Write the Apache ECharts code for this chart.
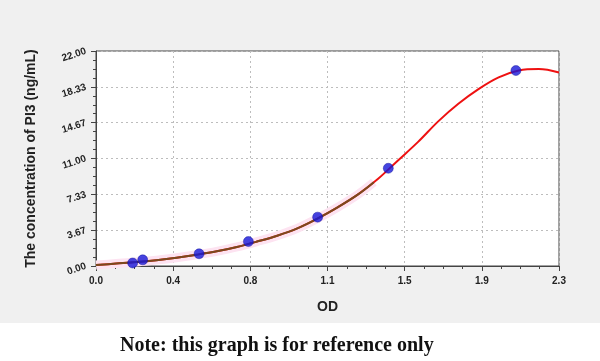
<!DOCTYPE html>
<html><head><meta charset="utf-8">
<script src="https://cdn.jsdelivr.net/npm/echarts@6/dist/echarts.min.js"></script>
<style>html,body{margin:0;padding:0;background:#fff}#c{width:600px;height:361px}</style>
</head><body><div id="c"></div>
<script>
// Standard points (OD, concentration)
var pointOD = [0.182, 0.232, 0.512, 0.757, 1.101, 1.452, 2.086];
var pointConc = [0.31, 0.63, 1.25, 2.5, 5, 10, 20];
// Fitted curve
var curveOD = [0, 0.1, 0.2, 0.3, 0.4, 0.5, 0.6, 0.7, 0.8, 0.9, 1.0, 1.1, 1.2, 1.3, 1.4, 1.5, 1.6, 1.7, 1.8, 1.9, 2.0, 2.1, 2.2, 2.3];
var curveConc = [0.1, 0.25, 0.4, 0.6, 0.85, 1.15, 1.5, 1.95, 2.5, 3.1, 3.85, 4.85, 6.0, 7.3, 8.9, 10.8, 12.7, 14.8, 16.6, 18.1, 19.3, 20.0, 20.15, 19.8];
var brownEndOD = 1.38;
var xTickLabels = ['0.0', '0.4', '0.8', '1.1', '1.5', '1.9', '2.3'];
var yTickLabels = ['0.00', '3.67', '7.33', '11.00', '14.67', '18.33', '22.00'];
var xMax = 2.3, yMax = 22;

var xInt = xMax / 6, yInt = yMax / 6;
var pts = pointOD.map(function (x, i) { return [x, pointConc[i]]; });
var curve = curveOD.map(function (x, i) { return [x, curveConc[i]]; });
var brown = curve.filter(function (p) { return p[0] <= brownEndOD; });
(function () {
  for (var i = 0; i < curve.length - 1; i++) {
    if (curve[i][0] < brownEndOD && curve[i + 1][0] > brownEndOD) {
      var t = (brownEndOD - curve[i][0]) / (curve[i + 1][0] - curve[i][0]);
      brown.push([brownEndOD, curve[i][1] + t * (curve[i + 1][1] - curve[i][1])]);
    }
  }
})();

var chart = echarts.init(document.getElementById('c'), null, { renderer: 'canvas' });
var axisFont = { color: '#222', fontSize: 10, fontWeight: 'bold', fontFamily: 'Liberation Sans, Arial, sans-serif' };
var gridLine = { show: true, lineStyle: { color: '#bdbdbd', type: [2, 3], width: 1 } };
chart.setOption({
  animation: false,
  backgroundColor: '#ffffff',
  graphic: [
    { type: 'rect', shape: { x: 0, y: 0, width: 600, height: 323 }, style: { fill: '#f0f0f0' }, z: -10, silent: true },
    { type: 'text', left: 120, top: 336, style: { text: 'Note: this graph is for reference only', fill: '#111', font: 'bold 20px "Liberation Serif", "DejaVu Serif", serif' } }
  ],
  grid: { left: 96, top: 51, right: 41, bottom: 95, show: true, backgroundColor: '#ffffff', borderColor: '#444', borderWidth: 1 },
  xAxis: {
    type: 'value', min: 0, max: xMax, interval: xInt,
    name: 'OD', nameLocation: 'middle', nameGap: 34,
    nameTextStyle: { fontSize: 14, fontWeight: 'bold', color: '#222', fontFamily: 'Liberation Sans, Arial, sans-serif' },
    axisLine: { show: true, lineStyle: { color: '#444', width: 1 } },
    axisTick: { show: true, inside: false, length: 5, lineStyle: { color: '#444' } },
    minorTick: { show: true, splitNumber: 4, length: 3, lineStyle: { color: '#444' } },
    splitLine: gridLine,
    axisLabel: Object.assign({ margin: 10, formatter: function (v) { return xTickLabels[Math.round(v / xInt)]; } }, axisFont)
  },
  yAxis: {
    type: 'value', min: 0, max: yMax, interval: yInt,
    name: 'The concentration of PI3 (ng/mL)', nameLocation: 'middle', nameGap: 58,
    nameTextStyle: { fontSize: 14, fontWeight: 'bold', color: '#222', fontFamily: 'Liberation Sans, Arial, sans-serif' },
    axisLine: { show: true, lineStyle: { color: '#444', width: 1 } },
    axisTick: { show: true, inside: false, length: 5, lineStyle: { color: '#444' } },
    minorTick: { show: true, splitNumber: 4, length: 3, lineStyle: { color: '#444' } },
    splitLine: gridLine,
    axisLabel: Object.assign({ margin: 10, rotate: 18, formatter: function (v) { return yTickLabels[Math.round(v / yInt)]; } }, axisFont)
  },
  series: [
    { type: 'line', data: brown, smooth: 0.35, symbol: 'none', lineStyle: { color: '#fde3f1', width: 9 }, z: 1 },
    { type: 'line', data: curve, smooth: 0.35, symbol: 'none', lineStyle: { color: '#ee1111', width: 2 }, z: 2 },
    { type: 'line', data: brown, smooth: 0.35, symbol: 'none', lineStyle: { color: '#7a4a1e', width: 2 }, z: 3 },
    { type: 'scatter', data: pts, symbol: 'circle', symbolSize: 10, itemStyle: { color: '#1616d8', borderColor: '#0b0b90', borderWidth: 0.5 }, z: 4 }
  ]
});
</script></body></html>
